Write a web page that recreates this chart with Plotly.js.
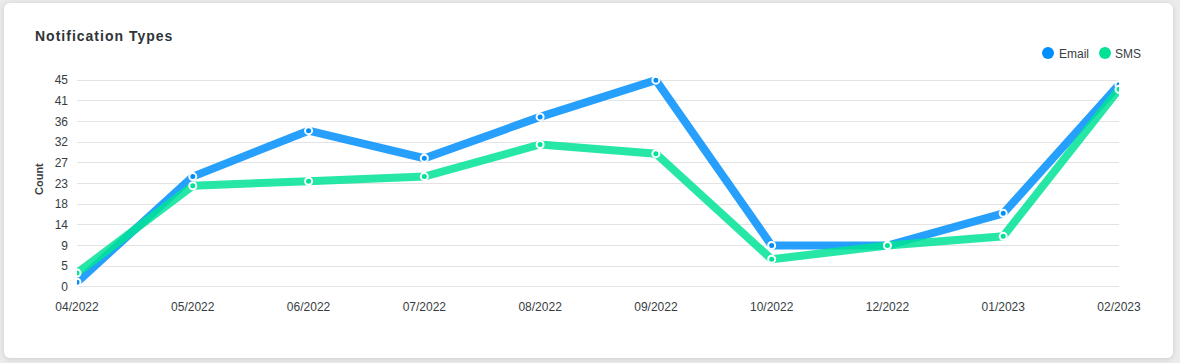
<!DOCTYPE html>
<html>
<head>
<meta charset="utf-8">
<script src="https://cdn.plot.ly/plotly-3.0.1.min.js"></script>
<style>
  html, body { margin: 0; padding: 0; width: 1180px; height: 363px; background: #ececec; overflow: hidden; }
  #card { position: absolute; left: 4px; top: 3px; width: 1169px; height: 355px; background: #fff;
          border-radius: 6px; box-shadow: 0 1px 6px rgba(0,0,0,0.14); }
  #chart { position: absolute; left: 0; top: 0; width: 1180px; height: 363px; }
  #chart .gtitle { letter-spacing: 1px; }
</style>
</head>
<body>
<div id="card"></div>
<div id="chart"></div>
<script>
// ---- data ----
const months = ["04/2022", "05/2022", "06/2022", "07/2022", "08/2022", "09/2022", "10/2022", "12/2022", "01/2023", "02/2023"];
const emailCounts = [1, 24, 34, 28, 37, 45, 9, 9, 16, 44];
const smsCounts   = [3, 22, 23, 24, 31, 29, 6, 9, 11, 43];
const seriesNames = ["Email", "SMS"];
const seriesColors = ["#008FFB", "#00E396"];
const lineColors = ["rgba(0,143,251,0.85)", "rgba(0,227,150,0.85)"];
const yTickVals = [0, 4.5, 9, 13.5, 18, 22.5, 27, 31.5, 36, 40.5, 45];
const yTickText = ["0", "5", "9", "14", "18", "23", "27", "32", "36", "41", "45"];

const W = 1180, H = 363;
const M = { l: 77, r: 61, t: 76, b: 72 };
const pw = W - M.l - M.r, ph = H - M.t - M.b;
const px2x = px => (px - M.l) / pw;
const px2y = py => (H - M.b - py) / ph;

const font = "Liberation Sans, Arial, Helvetica, sans-serif";
const textColor = "#373d3f";

function trace(i, vals) {
  return {
    type: "scatter", mode: "lines+markers", name: seriesNames[i],
    x: months, y: vals, showlegend: false,
    line: { color: lineColors[i], width: 8 },
    marker: { color: seriesColors[i], size: 7, line: { color: "#ffffff", width: 2 } },
    hoverinfo: "x+y+name"
  };
}

const data = [trace(0, emailCounts), trace(1, smsCounts)];

// custom legend (dots + names)
const legendDotX = [1048, 1105];
const legendTextX = [1057, 1113];
const legendY = 53;
const shapes = seriesNames.map((n, i) => ({
  type: "circle", xref: "paper", yref: "paper",
  xsizemode: "pixel", ysizemode: "pixel",
  xanchor: px2x(legendDotX[i]), yanchor: px2y(legendY),
  x0: -6, x1: 6, y0: -6, y1: 6,
  fillcolor: seriesColors[i], line: { width: 0 }
}));
const annotations = seriesNames.map((n, i) => ({
  text: n, xref: "paper", yref: "paper",
  x: px2x(legendTextX[i]), y: px2y(legendY + 1),
  xanchor: "left", yanchor: "middle", showarrow: false,
  font: { family: font, size: 12, color: textColor }
}));
annotations.push({
  text: "<b>Count</b>", xref: "paper", yref: "paper",
  x: px2x(39), y: px2y(179), textangle: -90,
  xanchor: "center", yanchor: "middle", showarrow: false,
  font: { family: font, size: 11, color: textColor }
});

const layout = {
  width: W, height: H,
  margin: M,
  paper_bgcolor: "rgba(0,0,0,0)", plot_bgcolor: "rgba(0,0,0,0)",
  title: {
    text: "<b>Notification Types</b>", xref: "container", yref: "container",
    x: 35 / W, xanchor: "left", y: 1 - 36 / H, yanchor: "middle",
    font: { family: font, size: 14, color: "#2f3437" }
  },
  xaxis: {
    type: "category", range: [0, 9], showgrid: false, zeroline: false, showline: false,
    ticks: "", tickfont: { family: font, size: 12, color: textColor },
    ticklabelstandoff: 7, fixedrange: true
  },
  yaxis: {
    range: [-0.9, 45.9], tickmode: "array", tickvals: yTickVals, ticktext: yTickText,
    showgrid: true, gridcolor: "#e3e3e3", gridwidth: 1, zeroline: false, showline: false,
    ticks: "", tickfont: { family: font, size: 12, color: textColor },
    ticklabelstandoff: 8, fixedrange: true
  },
  shapes: shapes,
  annotations: annotations,
  showlegend: false
};

Plotly.newPlot("chart", data, layout, { displayModeBar: false, staticPlot: false });
</script>
</body>
</html>
